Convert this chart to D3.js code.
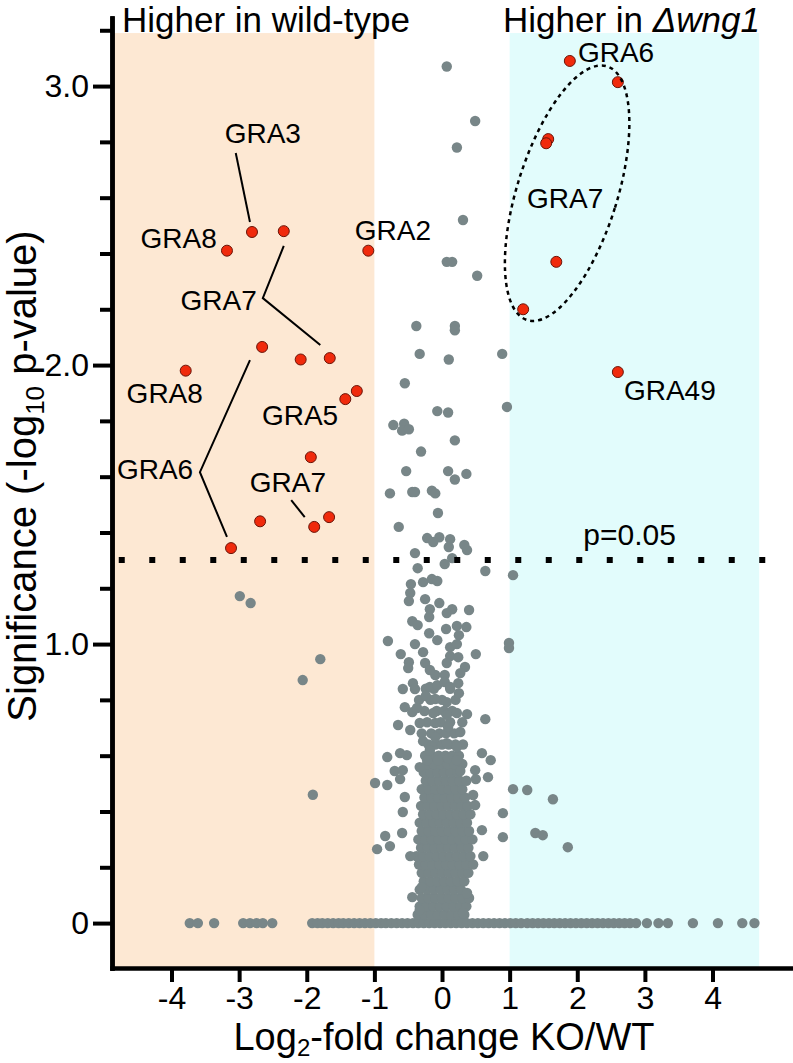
<!DOCTYPE html>
<html>
<head>
<meta charset="utf-8">
<script src="https://cdn.jsdelivr.net/npm/d3@7"></script>
<style>
  html, body { margin: 0; padding: 0; background: #fff; }
  svg { display: block; font-family: "Liberation Sans", Arial, Helvetica, sans-serif; }
</style>
</head>
<body>
<svg id="chart" width="793" height="1063"></svg>
<script>
// ---------------- DATA ----------------
const xTicks = [-4, -3, -2, -1, 0, 1, 2, 3, 4];
const xTickLabels = ["-4", "-3", "-2", "-1", "0", "1", "2", "3", "4"];
const yMajorTicks = [0, 1, 2, 3];
const yTickLabels = ["0", "1.0", "2.0", "3.0"];
const yMinorTicks = [0.2, 0.4, 0.6, 0.8, 1.2, 1.4, 1.6, 1.8, 2.2, 2.4, 2.6, 2.8, 3.2];
const pThreshold = 1.301; // -log10(0.05)

// significant GRA proteins (red)
const redX = [-2.81, -2.34, -3.18, -1.09, -2.66, -2.09, -1.66, -3.79, -1.43, -1.26, -1.94, -2.69, -1.89, -1.67, -3.12,
              1.89, 2.60, 1.57, 1.54, 1.69, 1.20, 2.60];
const redY = [2.477, 2.48, 2.41, 2.41, 2.065, 2.02, 2.025, 1.98, 1.878, 1.907, 1.67, 1.44, 1.42, 1.455, 1.344,
              3.09, 3.014, 2.81, 2.795, 2.37, 2.20, 1.975];

// scattered grey proteins [log2FC, -log10 p]
const greyScatter = [
  [0.07,3.07],[0.49,2.875],[0.22,2.78],[0.31,2.52],[0.07,2.37],[0.15,2.37],[0.52,2.32],[-0.38,2.14],
  [0.19,2.14],[0.19,2.125],[-0.33,2.04],[0.10,2.02],[0.89,2.04],[-0.55,1.935],[-0.07,1.835],[0.09,1.83],
  [0.96,1.85],[-0.72,1.785],[-0.56,1.79],[-0.59,1.765],[-0.49,1.77],[0.19,1.73],[-0.31,1.69],[-0.53,1.62],
  [0.09,1.62],[0.19,1.59],[0.36,1.61],[-0.77,1.54],[-0.44,1.545],[-0.40,1.545],[-0.15,1.55],[-0.10,1.54],
  [-0.06,1.47],[-0.64,1.42],
  [-0.40,1.326],[0.37,1.337],[0.33,1.355],[0.12,1.376],[0.10,1.348],[-0.22,1.38],[-0.04,1.383],[-0.13,1.366],
  [0.15,1.308],[0.04,1.287],[-0.36,1.272],[0.64,1.262],[1.05,1.247],[-0.46,1.215],[-0.28,1.222],[-0.15,1.233],
  [-0.07,1.226],[-0.47,1.183],[-0.49,1.154],[-0.25,1.161],[-0.04,1.147],[-0.18,1.125],[-0.19,1.097],[0.07,1.111],
  [0.15,1.125],[0.40,1.122],[-0.44,1.082],[-0.36,1.068],[0.06,1.054],[0.22,1.065],[0.36,1.061],[0.99,1.004],
  [0.99,0.986],[-0.80,1.011],[-0.61,0.964],[-0.40,1.0],[-0.28,0.971],[-0.49,0.935],[-0.50,0.914],[-0.25,0.932],
  [-0.19,1.039],[-0.07,1.014],[0.12,0.989],[0.22,1.0],[0.25,1.032],[0.50,0.964],[0.12,0.957],[0.24,0.953],
  [0.07,0.932],[0.34,0.918],[0.27,0.896],[0.04,0.889],[-0.10,0.889],[-0.18,0.907],[-0.58,0.839],[-0.43,0.86],
  [-0.40,0.839],[-0.18,0.846],[-0.07,0.853],[0.04,0.864],[0.12,0.846],[0.24,0.86],[0.25,0.824],[-0.24,0.814],
  [-0.10,0.803],[0.07,0.792],[-0.55,0.774],[-0.44,0.756],[-0.37,0.771],[-0.33,0.717],[-0.47,0.692],[-0.65,0.71],
  [-0.13,0.753],[-0.10,0.717],[0.07,0.746],[0.22,0.753],[0.37,0.749],[0.09,0.703],[0.27,0.685],[0.64,0.731],
  [-0.28,0.652],[-0.18,0.62],[-0.10,0.667],[0.07,0.645],[0.22,0.631],[-0.81,0.595],[-0.62,0.609],[-0.52,0.602],
  [0.59,0.609],[0.72,0.584],[-0.70,0.545],[-0.58,0.548],[-0.62,0.516],[-0.33,0.559],[-0.22,0.584],[-0.06,0.584],
  [0.09,0.591],[0.22,0.584],[0.27,0.545],[0.49,0.548],[0.50,0.516],[0.68,0.523],[-0.99,0.502],[-0.81,0.495],
  [1.05,0.48],[1.26,0.477],[1.64,0.444],[-0.55,0.452],[-0.58,0.398],[0.46,0.459],[0.49,0.423],[0.90,0.394],
  [0.59,0.333],[0.90,0.308],[1.38,0.323],[1.49,0.315],[1.86,0.272],[-0.84,0.312],[-0.96,0.265],[-0.77,0.276],
  [-0.59,0.323],[-0.47,0.24],[0.61,0.24],[-0.44,0.093],[-0.33,0.047],[0.31,0.036],[0.37,0.108],[-0.30,0.129],
  [-2.99,1.172],[-2.83,1.147],[-1.80,0.946],[-2.06,0.871],[-1.91,0.46]
];

// dense core of the cloud, as rows of equal -log10 p
const coreRowY = [0.03,0.06,0.09,0.12,0.15,0.18,0.21,0.24,0.27,0.30,0.33,0.36,0.39,0.42,0.45,0.48,0.51,0.54,0.57,0.60,0.64,0.68,0.72,0.76,0.80,0.84];
const coreRowX = [
  [-0.36,-0.26,-0.16,-0.06,0.04,0.14,0.24,0.33],
  [-0.33,-0.23,-0.13,-0.03,0.07,0.17,0.27,0.36],
  [-0.30,-0.20,-0.10,0.00,0.10,0.20,0.30,0.40],
  [-0.33,-0.22,-0.12,-0.02,0.08,0.18,0.28],
  [-0.27,-0.17,-0.07,0.03,0.13,0.23,0.33],
  [-0.30,-0.20,-0.10,0.00,0.10,0.20,0.30,0.39],
  [-0.34,-0.24,-0.14,-0.04,0.06,0.16,0.26,0.36,0.46],
  [-0.38,-0.28,-0.18,-0.08,0.02,0.12,0.22,0.32,0.42],
  [-0.31,-0.21,-0.11,-0.01,0.09,0.19,0.29,0.39],
  [-0.35,-0.25,-0.15,-0.05,0.05,0.15,0.25,0.35,0.45],
  [-0.30,-0.20,-0.10,0.00,0.10,0.20,0.30,0.40],
  [-0.33,-0.23,-0.13,-0.03,0.07,0.17,0.27,0.37],
  [-0.28,-0.18,-0.08,0.02,0.12,0.22,0.32,0.42],
  [-0.31,-0.21,-0.11,-0.01,0.09,0.19,0.29,0.38],
  [-0.26,-0.16,-0.06,0.04,0.14,0.24,0.34],
  [-0.30,-0.20,-0.10,0.00,0.10,0.20,0.30],
  [-0.24,-0.14,-0.04,0.06,0.16,0.26,0.36],
  [-0.27,-0.17,-0.07,0.03,0.13,0.23],
  [-0.22,-0.12,-0.02,0.08,0.18,0.30],
  [-0.25,-0.15,-0.05,0.05,0.15,0.25],
  [-0.20,-0.10,0.00,0.10,0.20,0.31],
  [-0.30,-0.16,-0.04,0.06,0.18],
  [-0.22,-0.02,0.12,0.30],
  [-0.26,-0.08,0.03,0.15],
  [-0.34,-0.17,0.00,0.20],
  [-0.24,-0.12,0.12]
];

// proteins with p = 1 (-log10 p = 0)
const zeroRowX = [-3.73,-3.61,-3.37,-2.94,-2.84,-2.74,-2.65,-2.51,
  -1.92,-1.84,-1.77,-1.69,-1.61,-1.53,-1.46,-1.38,-1.30,-1.22,-1.14,-1.06,-0.98,-0.90,-0.83,-0.75,-0.67,
  -0.59,-0.51,-0.43,-0.35,-0.27,-0.19,-0.11,-0.03,0.05,0.13,0.21,0.29,0.37,0.45,0.53,0.61,0.69,0.77,0.85,
  0.93,1.01,1.09,1.17,1.26,1.34,1.42,1.50,1.58,1.66,1.74,1.82,1.90,1.98,2.06,2.14,2.22,2.30,2.38,2.46,
  2.54,2.62,2.70,2.78,2.87,3.03,3.20,3.34,3.71,4.08,4.44,4.62];

// annotations
const labelText = ["GRA3","GRA8","GRA2","GRA7","GRA8","GRA5","GRA6","GRA7","GRA6","GRA7","GRA49"];
const labelX    = [-2.65, -3.33, -1.29, -2.74, -4.10, -2.10, -3.68, -2.28, 2.01, 1.82, 2.69];
const labelY    = [2.796, 2.42, 2.448, 2.197, 1.864, 1.785, 1.591, 1.545, 3.086, 2.563, 1.875];
const labelAnchor = ["middle","end","start","end","middle","middle","end","middle","start","middle","start"];
const leaders = [
  [[-3.05,2.76],[-2.84,2.513]],
  [[-2.34,2.427],[-2.65,2.24],[-1.80,2.072]],
  [[-2.84,2.018],[-3.58,1.616],[-3.18,1.384]],
  [[-2.23,1.516],[-2.03,1.455]]
];
const groupEllipse = {cx: 1.85, cy: 2.616};

// ---------------- CHART ----------------
const svg = d3.select("#chart");
const x = d3.scaleLinear().domain([-4.88, 5.19]).range([112, 793]);
const y = d3.scaleLinear().domain([-0.161, 3.244]).range([968, 18]);

// shaded regions
svg.append("rect").attr("x", x(-4.88)).attr("y", y(3.19))
  .attr("width", x(-1) - x(-4.88)).attr("height", y(-0.161) - y(3.19)).attr("fill", "#fde8d3");
svg.append("rect").attr("x", x(1)).attr("y", y(3.19))
  .attr("width", x(4.69) - x(1)).attr("height", y(-0.161) - y(3.19)).attr("fill", "#e2fcfc");

const grey = "#788688";
const g = svg.append("g");
const allGrey = [];
zeroRowX.forEach(v => allGrey.push([v, 0]));
coreRowY.forEach((yy, i) => coreRowX[i].forEach(v => allGrey.push([v, yy])));
greyScatter.forEach(p => allGrey.push(p));
g.selectAll("circle.grey").data(allGrey).join("circle").attr("class", "grey")
  .attr("cx", d => x(d[0])).attr("cy", d => y(d[1])).attr("r", 5.2).attr("fill", grey);

// threshold line
svg.append("line").attr("x1", x(-4.78)).attr("x2", x(4.85))
  .attr("y1", y(pThreshold)).attr("y2", y(pThreshold))
  .attr("stroke", "#000").attr("stroke-width", 6).attr("stroke-dasharray", "6,24.5");

// red points
svg.selectAll("circle.red").data(redX.map((v, i) => [v, redY[i]])).join("circle").attr("class", "red")
  .attr("cx", d => x(d[0])).attr("cy", d => y(d[1])).attr("r", 5.5)
  .attr("fill", "#f02a0c").attr("stroke", "#6b1408").attr("stroke-width", 1);

// ellipse
svg.append("ellipse")
  .attr("transform", `translate(${x(groupEllipse.cx)},${y(groupEllipse.cy)}) rotate(17.5)`)
  .attr("rx", 50).attr("ry", 133)
  .attr("fill", "none").attr("stroke", "#000").attr("stroke-width", 2.5).attr("stroke-dasharray", "4,4");

// leaders
const line = d3.line().x(d => x(d[0])).y(d => y(d[1]));
svg.selectAll("path.leader").data(leaders).join("path").attr("class", "leader")
  .attr("d", line).attr("fill", "none").attr("stroke", "#000").attr("stroke-width", 2);

// labels
svg.selectAll("text.lab").data(labelText).join("text").attr("class", "lab")
  .attr("x", (d, i) => x(labelX[i])).attr("y", (d, i) => y(labelY[i]))
  .attr("text-anchor", (d, i) => labelAnchor[i])
  .attr("font-size", 28).text(d => d);

svg.append("text").attr("x", x(2.09)).attr("y", y(1.355)).attr("font-size", 30).text("p=0.05");

// axes
const yAxisMajor = d3.axisLeft(y).tickValues(yMajorTicks).tickFormat((d, i) => yTickLabels[i])
  .tickSize(19).tickSizeOuter(0).tickPadding(4);
const yAxisMinor = d3.axisLeft(y).tickValues(yMinorTicks).tickFormat("").tickSize(12).tickSizeOuter(0);
const xAxis = d3.axisBottom(x).tickValues(xTicks).tickFormat((d, i) => xTickLabels[i])
  .tickSize(14).tickSizeOuter(0).tickPadding(4);

function styleAxis(sel, fs) {
  sel.selectAll("path.domain").attr("stroke", "#000").attr("stroke-width", 4.5).attr("stroke-linecap", "square");
  sel.selectAll(".tick line").attr("stroke", "#000").attr("stroke-width", 4);
  sel.selectAll(".tick text").attr("font-size", fs).attr("font-family", "Liberation Sans, Arial, sans-serif").attr("fill", "#000");
}
svg.append("g").attr("transform", "translate(112,0)").call(yAxisMinor).call(s => styleAxis(s, 32));
svg.append("g").attr("transform", "translate(112,0)").call(yAxisMajor).call(s => styleAxis(s, 32));
svg.append("g").attr("transform", "translate(0,968)").call(xAxis).call(s => styleAxis(s, 32));

// titles
svg.append("text").attr("x", 122).attr("y", 31.5).attr("font-size", 35).text("Higher in wild-type");
const t2 = svg.append("text").attr("x", 503).attr("y", 31.5).attr("font-size", 35);
t2.append("tspan").text("Higher in ");
t2.append("tspan").attr("font-style", "italic").text("Δwng1");

// axis titles
const xl = svg.append("text").attr("x", 444).attr("y", 1050).attr("text-anchor", "middle").attr("font-size", 38);
xl.append("tspan").text("Log");
xl.append("tspan").attr("font-size", 24).attr("dy", 6).text("2");
xl.append("tspan").attr("dy", -6).text("-fold change KO/WT");

const yl = svg.append("text").attr("transform", "translate(36,476) rotate(-90)")
  .attr("text-anchor", "middle").attr("font-size", 40);
yl.append("tspan").text("Significance (-log");
yl.append("tspan").attr("font-size", 26).attr("dy", 8).text("10");
yl.append("tspan").attr("dy", -8).text(" p-value)");
</script>
</body>
</html>
